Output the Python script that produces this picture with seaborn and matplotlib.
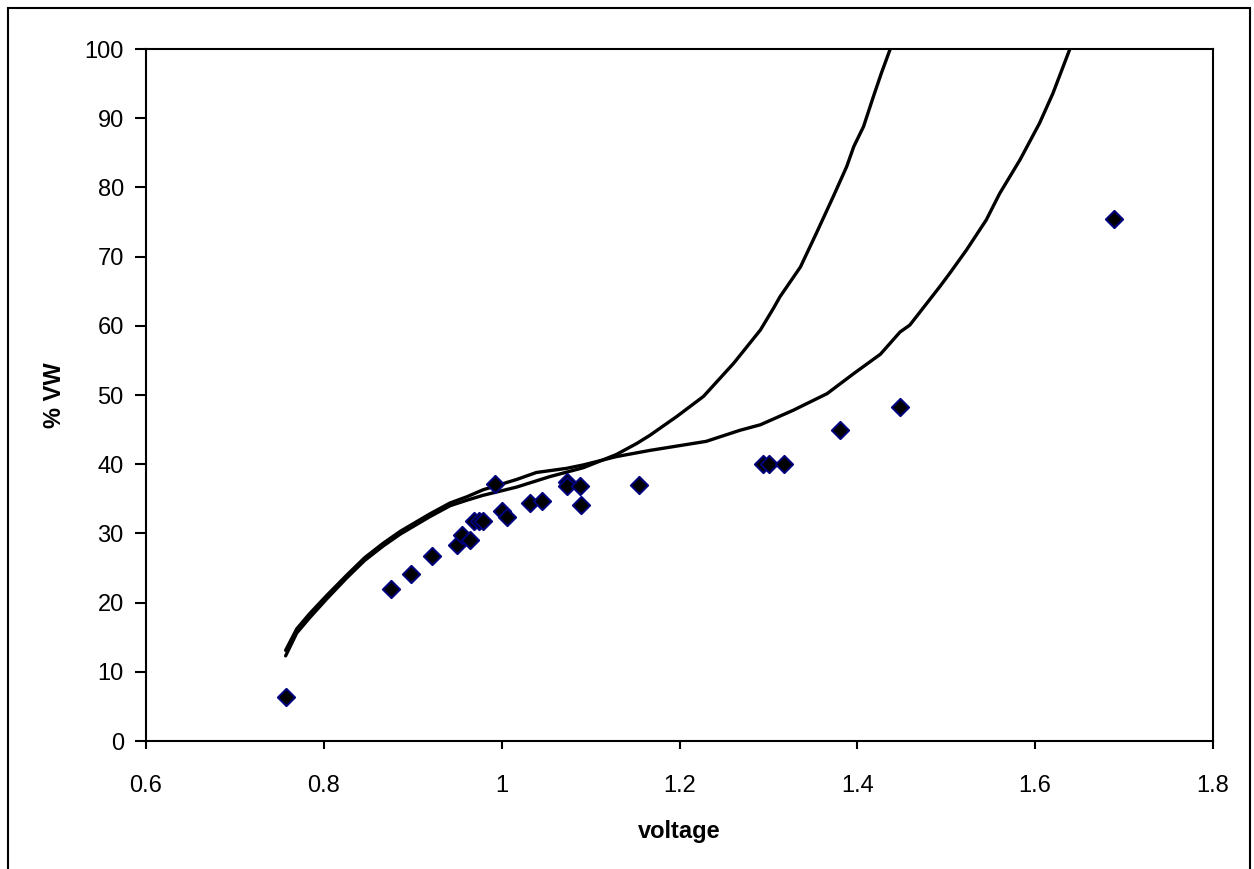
import matplotlib
matplotlib.use("Agg")
import matplotlib.pyplot as plt
import seaborn as sns
import pandas as pd
from matplotlib.patches import Rectangle

# ---- data ----
scatter_voltage = [0.758, 0.8755, 0.898, 0.922, 0.950, 0.955, 0.964, 0.969, 0.974, 0.979,
                   0.9925, 1.000, 1.006, 1.032, 1.045, 1.073, 1.073, 1.088, 1.089, 1.154,
                   1.294, 1.301, 1.318, 1.3805, 1.448, 1.689]
scatter_vw = [6.4, 21.9, 24.2, 26.8, 28.3, 29.7, 29.0, 31.8, 31.8, 31.8,
              37.1, 33.3, 32.3, 34.4, 34.7, 37.5, 36.9, 36.9, 34.1, 37.0,
              40.0, 40.1, 40.1, 45.0, 48.3, 75.5]

curve_a_voltage = [0.757, 0.7695, 0.784, 0.803, 0.826, 0.846, 0.867, 0.886, 0.919, 0.942,
                   0.961, 0.979, 1.017, 1.054, 1.092, 1.129, 1.152, 1.167, 1.197, 1.227,
                   1.261, 1.291, 1.306, 1.313, 1.336, 1.354, 1.373, 1.388, 1.396, 1.407,
                   1.418, 1.427, 1.437]
curve_a_vw = [12.3, 15.6, 17.8, 20.5, 23.6, 26.1, 28.2, 29.9, 32.4, 34.0,
              34.8, 35.5, 36.7, 38.2, 39.5, 41.4, 43.0, 44.2, 46.9, 49.8,
              54.6, 59.4, 62.6, 64.2, 68.5, 73.4, 78.7, 83.0, 85.9, 88.8,
              93.1, 96.5, 100.0]

curve_b_voltage = [0.757, 0.7695, 0.784, 0.803, 0.826, 0.846, 0.867, 0.886, 0.919, 0.942,
                   0.961, 0.979, 1.017, 1.039, 1.073, 1.092, 1.129, 1.167, 1.230, 1.268,
                   1.291, 1.328, 1.366, 1.396, 1.426, 1.448, 1.459, 1.493, 1.504, 1.523,
                   1.545, 1.560, 1.583, 1.605, 1.620, 1.639]
curve_b_vw = [13.1, 16.2, 18.4, 21.0, 24.0, 26.5, 28.6, 30.3, 32.8, 34.4,
              35.3, 36.3, 37.8, 38.8, 39.4, 39.9, 41.1, 42.0, 43.3, 44.9,
              45.7, 47.8, 50.2, 53.1, 55.9, 59.1, 60.1, 65.7, 67.6, 71.0,
              75.3, 79.1, 84.0, 89.3, 93.6, 100.0]

x_ticks = [0.6, 0.8, 1.0, 1.2, 1.4, 1.6, 1.8]
x_tick_labels = ["0.6", "0.8", "1", "1.2", "1.4", "1.6", "1.8"]
y_ticks = [0, 10, 20, 30, 40, 50, 60, 70, 80, 90, 100]

# ---- style ----
sns.set_style("white")
plt.rcParams["font.family"] = ["Liberation Sans", "DejaVu Sans"]
plt.rcParams["text.color"] = "black"
plt.rcParams["axes.labelcolor"] = "black"

fig = plt.figure(figsize=(12.54, 8.69), dpi=100)
fig.patch.set_facecolor("white")
W, H = 1254, 869
ax = fig.add_axes([146 / W, 1 - 741 / H, (1213 - 146) / W, (741 - 49) / H])

# outer chart-area border
fig.patches.append(Rectangle((8 / W, -0.05), (1250 - 8) / W, (861 / H) + 0.05,
                             transform=fig.transFigure, fill=False,
                             edgecolor="black", linewidth=1.5, zorder=0))

df_a = pd.DataFrame({"voltage": curve_a_voltage, "vw": curve_a_vw})
df_b = pd.DataFrame({"voltage": curve_b_voltage, "vw": curve_b_vw})
df_s = pd.DataFrame({"voltage": scatter_voltage, "vw": scatter_vw})

sns.lineplot(data=df_a, x="voltage", y="vw", sort=False, estimator=None,
             color="black", linewidth=2.4, ax=ax, zorder=2)
sns.lineplot(data=df_b, x="voltage", y="vw", sort=False, estimator=None,
             color="black", linewidth=2.4, ax=ax, zorder=2)
sns.scatterplot(data=df_s, x="voltage", y="vw", marker="D", s=78,
                color="black", edgecolor="#000080", linewidth=1.4, ax=ax, zorder=3)

ax.set_xlim(0.6, 1.8)
ax.set_ylim(0, 100)
ax.set_xticks(x_ticks)
ax.set_xticklabels(x_tick_labels)
ax.set_yticks(y_ticks)
ax.tick_params(axis="both", direction="out", width=1.5, labelsize=17,
               color="black", labelcolor="black", bottom=True, left=True)
ax.tick_params(axis="x", length=6, pad=18.5)
ax.tick_params(axis="y", length=8, pad=8)
for side in ["left", "right", "top", "bottom"]:
    ax.spines[side].set_visible(True)
    ax.spines[side].set_color("black")
    ax.spines[side].set_linewidth(1.5)

ax.set_xlabel("voltage", fontsize=17, fontweight="bold", labelpad=16.5, color="black")
ax.set_ylabel("% VW", fontsize=17, fontweight="bold", labelpad=13, color="black")

fig.savefig("out.png", dpi=100, facecolor="white")
